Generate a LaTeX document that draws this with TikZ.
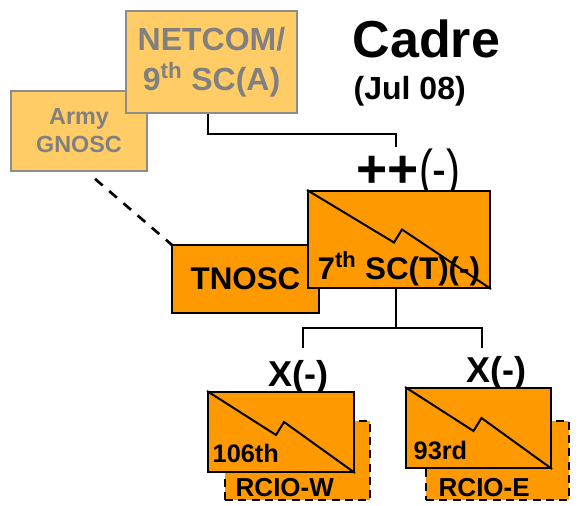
\documentclass[tikz,border=0pt]{standalone}
\usepackage{fontspec}
\setmainfont{Liberation Sans}
\usetikzlibrary{calc}

\definecolor{sigorange}{HTML}{FF9900}
\definecolor{hqlight}{HTML}{FFCC66}
\definecolor{hqgray}{HTML}{8C8C8C}
\definecolor{hqtext}{HTML}{808080}

\tikzset{
	unitbox/.style={draw=black, line width=1.5pt, fill=sigorange, inner sep=0pt},
	armybox/.style={draw=hqgray, line width=1.5pt, fill=hqlight, text=hqtext, inner sep=0pt, align=center},
	cadrebox/.style={unitbox, dashed, dash pattern=on 6pt off 4pt},
	link/.style={line width=1.5pt},
	zig/.style={line width=1.5pt},
}

% signal bolt across a unit box
\newcommand{\sigzag}[1]{\draw[zig] (#1.north west) -- ($(#1.center)+(-5,3)$) -- ($(#1.center)+(3,-10)$) -- (#1.south east);}

\begin{document}
\begin{tikzpicture}[x=0.75pt, y=-0.75pt]
		\useasboundingbox (0,0) rectangle (587,506);

		\node[armybox, minimum width=102pt, minimum height=60pt, font=\fontsize{17.5}{21}\selectfont\bfseries] (gnosc) at (79,131) {Army\\GNOSC};
		\node[armybox, minimum width=128.25pt, minimum height=76.5pt, font=\fontsize{24}{30}\selectfont\bfseries] (netcom) at (211.5,62) {NETCOM/\\9\textsuperscript{th} SC(A)};

		\node[anchor=base west, font=\fontsize{39}{44}\selectfont\bfseries] (title) at (348,58) {Cadre};
		\node[anchor=base west, font=\fontsize{24}{28}\selectfont\bfseries] (date) at (349,100) {(Jul 08)};

		\coordinate (hqtap) at (396,147);
		\draw[link] ([xshift=-2.6pt]netcom.south) -- ++(0,20) -| (hqtap);

		\draw[link, dashed, line width=2pt, dash pattern=on 7.5pt off 6.5pt, shorten <=8pt] ([xshift=6pt]gnosc.south) -- (172,245) coordinate (gnosctap);
		\node[unitbox, minimum width=110.25pt, minimum height=51pt, font=\fontsize{23.5}{27}\selectfont\bfseries] (tnosc) at (245.5,279) {TNOSC};

		\node[anchor=base west, font=\fontsize{40}{44}\selectfont] (ech7) at (352,188) {\textbf{++}\scalebox{0.78}[1]{(-)}};

		\node[unitbox, minimum width=136.5pt, minimum height=72.75pt] (sc7) at (399,239.5) {};
		\node[anchor=base west, font=\fontsize{23.5}{28}\selectfont\bfseries] (sc7name) at (313,280) {7\textsuperscript{th} SC(T)(-)};
		\sigzag{sc7}

		\coordinate (tapw) at (303,348);
		\coordinate (tape) at (482,348);
		\draw[link] ([xshift=-2.25pt]sc7.south) -- ++(0,39) -| (tapw);
		\draw[link] ([xshift=-2.25pt]sc7.south) -- ++(0,39) -| (tape);

		\node[anchor=base west, font=\fontsize{27}{30}\selectfont\bfseries] (echw) at (264,387) {X(-)};
		\node[anchor=base west, font=\fontsize{27}{30}\selectfont\bfseries] (eche) at (462,383) {X(-)};

		\node[cadrebox, minimum width=108.75pt, minimum height=59.25pt] (rciow) at (297.5,460.5) {};
		\node[cadrebox, minimum width=107.25pt, minimum height=59.25pt] (rcioe) at (497.5,460.5) {};
		\node[unitbox, minimum width=109.5pt, minimum height=60pt] (bn106) at (281,432) {};
		\node[unitbox, minimum width=108.75pt, minimum height=60pt] (bn93) at (478.5,428) {};
		\sigzag{bn106}
		\sigzag{bn93}

		\node[anchor=base west, font=\fontsize{19}{22}\selectfont\bfseries] (bn106name) at (208,463) {106th};
		\node[anchor=base west, font=\fontsize{19}{22}\selectfont\bfseries] (bn93name) at (409,460) {93rd};
		\node[anchor=base west, font=\fontsize{19.5}{22}\selectfont\bfseries] (rciowname) at (231,497) {RCIO-W};
		\node[anchor=base west, font=\fontsize{19.5}{22}\selectfont\bfseries] (rcioename) at (434,497) {RCIO-E};
	\end{tikzpicture}
\end{document}
